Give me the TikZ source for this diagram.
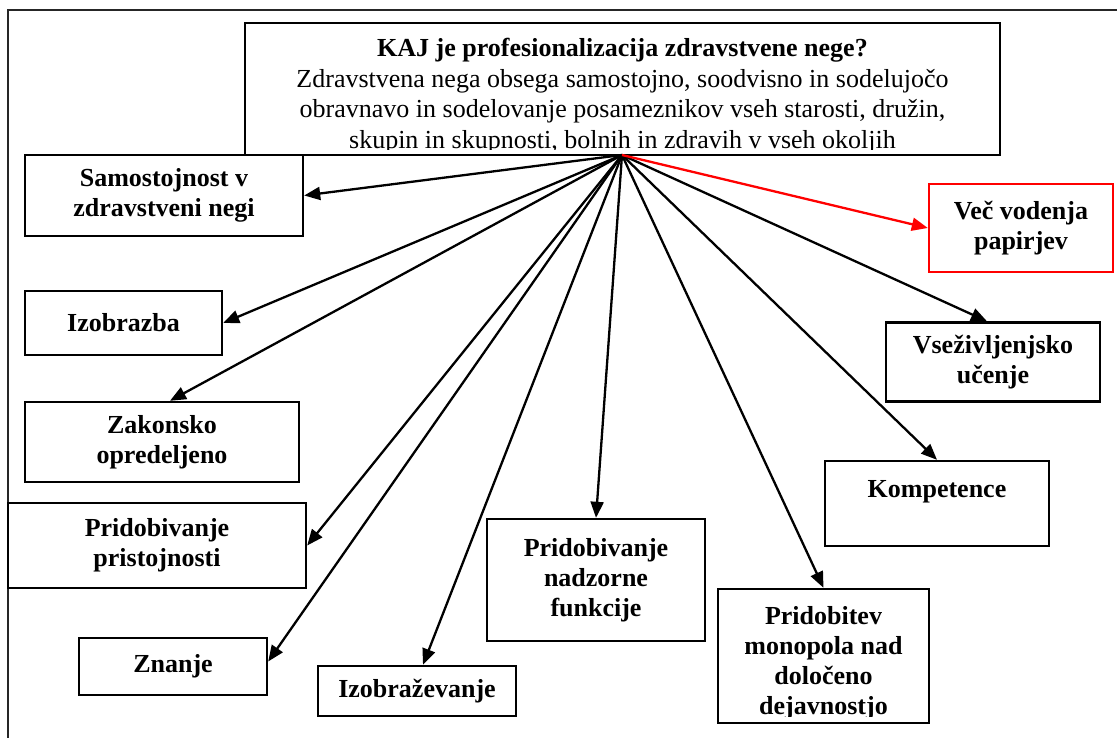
\documentclass[tikz,border=0pt]{standalone}
\usepackage{fontspec}
\setmainfont{Liberation Serif}
\usetikzlibrary{arrows.meta,calc}

\tikzset{
  frame/.style={line width=2.2pt, black!85},
  box/.style={draw=black, line width=2.4pt, align=center, inner sep=2pt,
    font=\fontsize{26}{30}\selectfont\bfseries},
  redbox/.style={box, draw=red},
  lbl/.style={align=center, inner sep=0pt, font=\fontsize{26}{30}\selectfont\bfseries},
  headline/.style={inner sep=0pt, anchor=base, font=\fontsize{26}{30}\selectfont\bfseries},
  bodyline/.style={inner sep=0pt, anchor=base, font=\fontsize{26}{30}\selectfont},
  arr/.style={line width=2.3pt, -{Triangle[length=16pt,width=13pt]}},
  redarr/.style={arr, draw=red, -{Triangle[length=16pt,width=13pt,fill=red]}}
}

\begin{document}
\begin{tikzpicture}[x=1pt,y=-1pt]
\useasboundingbox (0,0) rectangle (1117,738);

% page frame (open to the right and bottom)
\draw[frame] (1117,10) -- (8,10) -- (8,738);

% central question box
\node[draw=black, line width=2.4pt, minimum width=755pt, minimum height=132pt, inner sep=0pt] (top) at (622.5,89) {};
\begin{scope}
  \clip (245,23) rectangle (1000,150);
  \node[headline] (q1) at (622.5,57) {KAJ je profesionalizacija zdravstvene nege?};
  \node[bodyline] (q2) at (622.5,87.5) {Zdravstvena nega obsega samostojno, soodvisno in sodelujočo};
  \node[bodyline] (q3) at (622.5,118) {obravnavo in sodelovanje posameznikov vseh starosti, družin,};
  \node[bodyline] (q4) at (622.5,148.5) {skupin in skupnosti, bolnih in zdravih v vseh okoljih};
\end{scope}
\coordinate (hub) at (622,155);

% outcome boxes
\node[box, minimum width=278pt, minimum height=81pt] (samo) at (164,195.5) {Samostojnost v\\zdravstveni negi};
\node[box, minimum width=197pt, minimum height=64pt] (izbr) at (123.5,323) {Izobrazba};
\node[box, minimum width=274pt, minimum height=80pt] (zak) at (162,442) {Zakonsko\\opredeljeno};
\node[box, minimum width=298pt, minimum height=85pt] (prist) at (157,545.5) {Pridobivanje\\pristojnosti};
\node[box, minimum width=188pt, minimum height=57pt] (znanje) at (173,666.5) {Znanje};
\node[box, minimum width=198pt, minimum height=50pt] (izob) at (417,691) {Izobraževanje};
\node[box, minimum width=218pt, minimum height=122pt] (nadz) at (596,580) {Pridobivanje\\nadzorne\\funkcije};
\node[box, minimum width=211pt, minimum height=134pt] (mono) at (823.5,656) {};
\begin{scope}
  \clip (718,589) rectangle (929,716);
  \node[lbl] (monot) at (823.5,663) {Pridobitev\\monopola nad\\določeno\\dejavnostjo};
\end{scope}
\node[box, minimum width=224pt, minimum height=85pt] (komp) at (937,503.5) {Kompetence\\\mbox{}};
\node[box, minimum width=214pt, minimum height=79pt] (vsez) at (993,362) {Vseživljenjsko\\učenje};
\node[redbox, minimum width=184pt, minimum height=88pt] (vec) at (1021,228) {Več vodenja\\papirjev};

% connectors from the question box
\draw[arr] (hub) -- (samo.east);
\draw[arr] (hub) -- (izbr.east);
\draw[arr] (hub) -- ($(zak.north)+(8,0)$);
\draw[arr] (hub) -- (prist.east);
\draw[arr] (hub) -- ($(znanje.east)+(0,-5)$);
\draw[arr] (hub) -- ($(izob.north)+(6,0)$);
\draw[arr] (hub) -- (nadz.north);
\draw[arr] (hub) -- (mono.north);
\draw[arr] (hub) -- (komp.north);
\draw[arr] (hub) -- ($(vsez.north)+(-6,0)$);
\draw[redarr] (hub) -- (vec.west);
\end{tikzpicture}
\end{document}
